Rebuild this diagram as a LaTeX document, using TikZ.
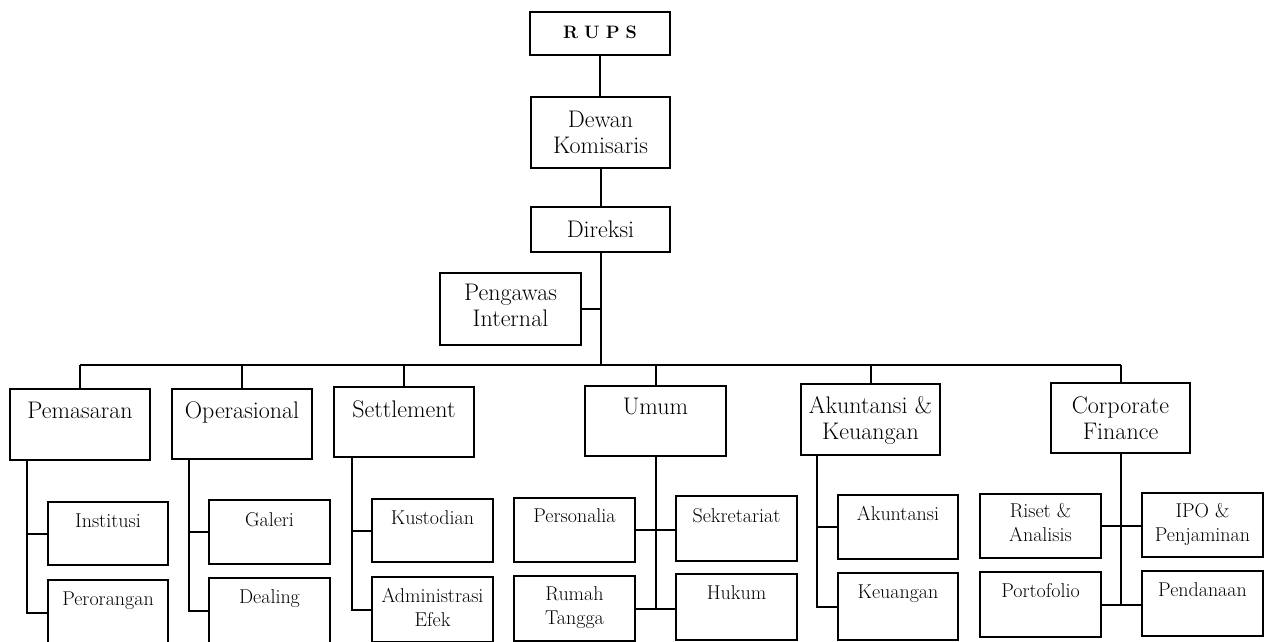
\documentclass[tikz,border=0pt]{standalone}
\usepackage{tikz}
\tikzset{
  orgbox/.style={draw, line width=2pt, anchor=north west, inner sep=0pt, outer sep=0pt},
  bigtxt/.style={font=\fontsize{24}{26}\selectfont},
  smalltxt/.style={font=\fontsize{20}{24}\selectfont},
  link/.style={line width=2pt},
}
% name, x0, y0, width, height, first-baseline offset, style, text
\newcommand{\orgnode}[8]{%
  \node[orgbox,#7] (#1) at (#2,#3) {\parbox[t][#5pt][t]{#4pt}{\centering\rule{0pt}{#6pt}#8}};}
\begin{document}
\begin{tikzpicture}[x=1pt,y=-1pt]
\useasboundingbox (0,0) rectangle (1274,641);
\clip (0,0) rectangle (1274,641);
\fill[white] (0,0) rectangle (1274,641);

% top levels
\orgnode{rups}{530}{12}{140}{43}{26}{font=\fontsize{18}{20}\selectfont\bfseries}{R\,\,U\,\,P\,\,S}
\orgnode{dewan}{531}{97}{139}{71}{30}{bigtxt}{Dewan\\Komisaris}
\orgnode{direksi}{531}{207}{139}{45}{30}{bigtxt}{Direksi}
\orgnode{pengawas}{440}{273}{141}{72}{27}{bigtxt}{Pengawas\\Internal}

% second level
\orgnode{pem}{10}{389}{140}{71}{29}{bigtxt}{Pemasaran}
\orgnode{ops}{172}{389}{140}{70}{29}{bigtxt}{Operasional}
\orgnode{set}{334}{387}{140}{70}{30}{bigtxt}{Settlement}
\orgnode{umum}{585}{386}{141}{70}{28}{bigtxt}{Umum}
\orgnode{ak}{801}{384}{139}{71}{29}{bigtxt}{Akuntansi \&\\Keuangan}
\orgnode{cf}{1051}{383}{139}{70}{30}{bigtxt}{Corporate\\Finance}

% third level
\orgnode{ins}{48}{502}{120}{63}{25}{smalltxt}{Institusi}
\orgnode{per}{48}{580}{120}{65}{25}{smalltxt}{Perorangan}
\orgnode{gal}{209}{500}{121}{64}{26}{smalltxt}{Galeri}
\orgnode{deal}{209}{578}{121}{65}{25}{smalltxt}{Dealing}
\orgnode{kus}{372}{499}{121}{63}{25}{smalltxt}{Kustodian}
\orgnode{adm}{372}{577}{121}{65}{25}{smalltxt}{Administrasi\\Efek}
\orgnode{pers}{514}{498}{121}{64}{24}{smalltxt}{Personalia}
\orgnode{sek}{676}{496}{121}{65}{26}{smalltxt}{Sekretariat}
\orgnode{ruma}{514}{576}{121}{65}{24}{smalltxt}{Rumah\\Tangga}
\orgnode{hukum}{676}{574}{121}{66}{25}{smalltxt}{Hukum}
\orgnode{akt}{838}{495}{120}{64}{25}{smalltxt}{Akuntansi}
\orgnode{keu}{838}{573}{120}{67}{25}{smalltxt}{Keuangan}
\orgnode{riset}{980}{494}{121}{64}{23}{smalltxt}{Riset \&\\Analisis}
\orgnode{ipo}{1142}{493}{121}{64}{24}{smalltxt}{IPO \&\\Penjaminan}
\orgnode{port}{980}{572}{121}{65}{25}{smalltxt}{Portofolio}
\orgnode{pend}{1142}{571}{121}{65}{25}{smalltxt}{Pendanaan}

% connectors, top
\coordinate (bus) at (600,365);
\draw[link] (rups.south) -- (rups.south |- dewan.north);
\draw[link] (dewan.south) -- (dewan.south |- direksi.north);
\draw[link] (direksi.south) -- (direksi.south |- bus);
\draw[link] (pengawas.east) -- (pengawas.east -| direksi.south);
\draw[link] (pem.north |- bus) -- (cf.north |- bus);
\foreach \n in {pem,ops,set,umum,ak,cf}
  \draw[link] (\n.north) -- (\n.north |- bus);

% left-hanging groups
\draw[link] ([xshift=17pt]pem.south west) |- (per.west);
\draw[link] ([xshift=17pt]pem.south west |- ins.west) -- (ins.west);
\draw[link] ([xshift=17pt]ops.south west) |- (deal.west);
\draw[link] ([xshift=17pt]ops.south west |- gal.west) -- (gal.west);
\draw[link] ([xshift=18pt]set.south west) |- (adm.west);
\draw[link] ([xshift=18pt]set.south west |- kus.west) -- (kus.west);
\draw[link] ([xshift=16pt]ak.south west) |- (keu.west);
\draw[link] ([xshift=16pt]ak.south west |- akt.west) -- (akt.west);

% centred groups
\draw[link] (umum.south) -- (umum.south |- ruma.east);
\draw[link] (pers.east) -- (pers.east -| sek.west);
\draw[link] (ruma.east) -- (ruma.east -| hukum.west);
\draw[link] (cf.south) -- (cf.south |- port.east);
\draw[link] (riset.east) -- (riset.east -| ipo.west);
\draw[link] (port.east) -- (port.east -| pend.west);
\end{tikzpicture}
\end{document}
